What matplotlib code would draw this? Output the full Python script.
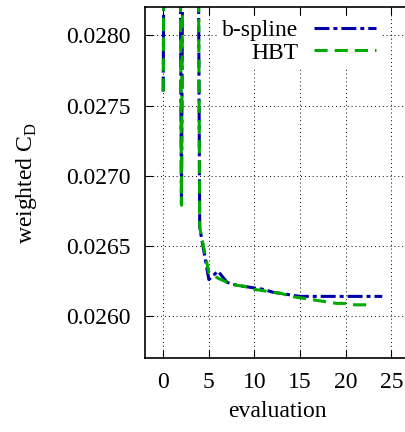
import matplotlib
matplotlib.use('Agg')
import matplotlib.pyplot as plt

plt.rcParams['font.family'] = ['Liberation Serif', 'DejaVu Serif']
plt.rcParams['mathtext.fontset'] = 'custom'
plt.rcParams['mathtext.rm'] = 'Liberation Serif'

# evaluation index and weighted drag coefficient
eval_bspline = list(range(25))
cd_bspline = [0.02760, 0.04000, 0.02679, 0.04000, 0.02663,
              0.02626, 0.02632, 0.02624, 0.02622, 0.02621,
              0.02620, 0.02619, 0.02617, 0.02616, 0.02615,
              0.02614, 0.02614, 0.02614, 0.02614, 0.02614,
              0.02614, 0.02614, 0.02614, 0.02614, 0.02614]

eval_hbt = list(range(24))
cd_hbt = [0.02760, 0.04000, 0.02679, 0.04000, 0.02663,
          0.02631, 0.02627, 0.02624, 0.02622, 0.02621,
          0.02619, 0.02618, 0.02617, 0.02616, 0.02614,
          0.02613, 0.02612, 0.02611, 0.02610, 0.02609,
          0.02609, 0.02608, 0.02608, 0.02608]

xticks = [0, 5, 10, 15, 20, 25]
yticks = [0.0260, 0.0265, 0.0270, 0.0275, 0.0280]

fig = plt.figure(figsize=(4.06, 4.32), dpi=100)
ax = fig.add_axes([0.357, 0.171, 0.652, 0.812])

ax.plot(eval_bspline, cd_bspline, color='#0000a8', lw=2.2,
        linestyle=(0, (4.9, 1.3, 1.3, 1.3)), label='b-spline')
ax.plot(eval_hbt, cd_hbt, color='#00aa00', lw=2.2,
        linestyle=(0, (4.3, 2.3)), label='HBT')

ax.set_xlim(-2, 27)
ax.set_ylim(0.0257, 0.0282)
ax.set_xticks(xticks)
ax.set_yticks(yticks)
ax.set_yticklabels(['%.4f' % v for v in yticks])
ax.tick_params(direction='in', top=True, right=False, labelsize=17, length=6, pad=10)
ax.grid(True, color='black', linestyle=(0, (1, 3)), lw=0.7)

for s in ['left', 'bottom', 'top']:
    ax.spines[s].set_linewidth(1.2)

ax.set_xlabel('evaluation', fontsize=17, labelpad=6)
ax.set_ylabel(r'weighted C$_\mathrm{D}$', fontsize=17, labelpad=20)

leg = ax.legend(loc='upper right', bbox_to_anchor=(0.888, 0.975), fontsize=17,
                markerfirst=False, handlelength=2.63, frameon=True,
                fancybox=False, edgecolor='none', framealpha=1.0,
                borderaxespad=0.0, borderpad=0.15, labelspacing=0.04,
                handletextpad=0.68)
leg.set_zorder(1.8)
for t in leg.get_texts():
    t.set_ha('right')
leg._legend_box.align = 'right'

fig.savefig('out.png', dpi=100)
